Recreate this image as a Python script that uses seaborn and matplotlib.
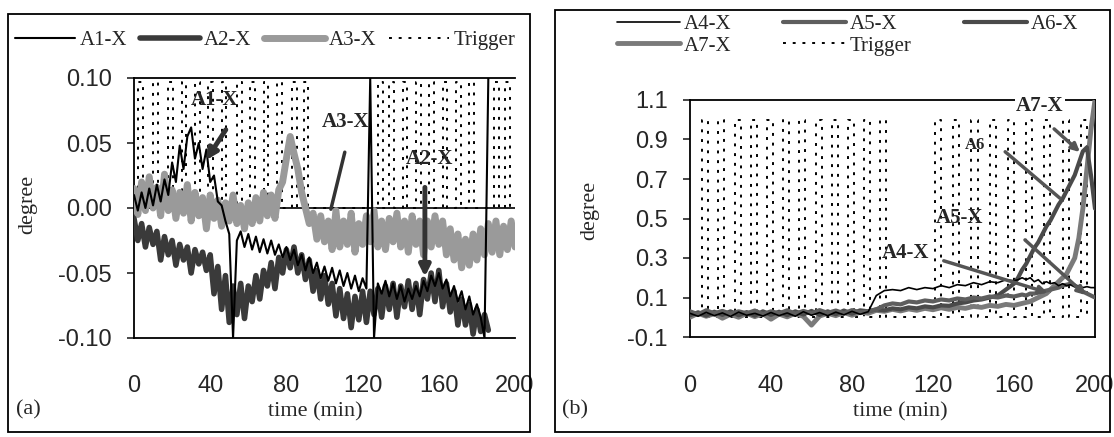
import numpy as np
import matplotlib
matplotlib.use("Agg")
import matplotlib.pyplot as plt
from matplotlib.patches import Rectangle
import seaborn as sns

# ----------------------------------------------------------
# data
# ----------------------------------------------------------

# panel (a): A1/A2 stop at ~186 min, A3 runs to 200 min
TIME_A12 = np.arange(0, 188, 2)
TIME_A3 = np.arange(0, 202, 2)

A1_X = [0.010, -0.002, 0.012, 0.000, 0.015, 0.002, 0.018, 0.005, 0.022, 0.010,
        0.035, 0.020, 0.048, 0.030, 0.055, 0.062, 0.038, 0.050, 0.030, 0.045,
        0.020, 0.025, 0.005, 0.002, -0.010, -0.020, -0.100, -0.025, -0.018, -0.030,
        -0.020, -0.032, -0.022, -0.034, -0.024, -0.035, -0.025, -0.036, -0.028, -0.038,
        -0.030, -0.040, -0.032, -0.044, -0.036, -0.048, -0.038, -0.050, -0.042, -0.054,
        -0.045, -0.056, -0.046, -0.058, -0.048, -0.060, -0.050, -0.062, -0.052, -0.064,
        -0.054, -0.062, 0.100, -0.100, -0.058, -0.066, -0.056, -0.068, -0.058, -0.070,
        -0.060, -0.072, -0.062, -0.070, -0.060, -0.068, -0.056, -0.064, -0.052, -0.060,
        -0.050, -0.062, -0.055, -0.068, -0.060, -0.072, -0.064, -0.078, -0.068, -0.082,
        -0.074, -0.084, -0.100, 0.100]

A2_X = [-0.008, -0.025, -0.012, -0.030, -0.015, -0.028, -0.018, -0.040, -0.022, -0.036,
        -0.025, -0.044, -0.028, -0.040, -0.030, -0.050, -0.032, -0.043, -0.034, -0.048,
        -0.036, -0.066, -0.045, -0.078, -0.052, -0.088, -0.060, -0.082, -0.058, -0.085,
        -0.060, -0.072, -0.052, -0.070, -0.048, -0.060, -0.042, -0.062, -0.038, -0.050,
        -0.032, -0.046, -0.030, -0.050, -0.036, -0.055, -0.040, -0.064, -0.048, -0.070,
        -0.052, -0.074, -0.058, -0.083, -0.062, -0.085, -0.066, -0.092, -0.068, -0.086,
        -0.064, -0.088, -0.064, -0.082, -0.062, -0.084, -0.060, -0.078, -0.058, -0.084,
        -0.060, -0.076, -0.056, -0.078, -0.058, -0.082, -0.055, -0.070, -0.050, -0.072,
        -0.048, -0.076, -0.058, -0.080, -0.064, -0.090, -0.070, -0.090, -0.074, -0.097,
        -0.078, -0.095, -0.082, -0.094]

A3_X = [0.015, -0.005, 0.020, -0.002, 0.024, 0.000, 0.016, -0.006, 0.026, -0.002,
        0.014, -0.008, 0.012, -0.004, 0.018, -0.010, 0.012, -0.006, 0.008, -0.016,
        0.010, -0.008, 0.006, -0.014, 0.004, -0.010, 0.010, -0.012, 0.002, -0.016,
        0.004, -0.012, 0.008, -0.010, 0.012, -0.006, 0.010, -0.008, 0.014, 0.020,
        0.038, 0.055, 0.042, 0.030, 0.012, 0.000, -0.012, -0.004, -0.024, -0.006,
        -0.026, -0.010, -0.032, -0.002, -0.030, -0.010, -0.028, -0.004, -0.034, -0.012,
        -0.028, -0.006, -0.026, -0.002, -0.030, -0.010, -0.032, -0.008, -0.026, -0.004,
        -0.030, -0.010, -0.034, -0.006, -0.028, -0.010, -0.036, -0.010, -0.030, -0.006,
        -0.028, -0.010, -0.036, -0.016, -0.040, -0.020, -0.046, -0.024, -0.044, -0.020,
        -0.040, -0.016, -0.036, -0.012, -0.034, -0.010, -0.036, -0.014, -0.032, -0.010,
        -0.030]

# trigger pulses (start time, min)
TRIG_A_STARTS = [2, 10, 18, 25, 32, 39, 46, 54, 61, 68, 75, 83, 89,
                 128, 134, 141, 148, 155, 162, 169, 176, 189, 195]
TRIG_A_WIDTH = 2.5
TRIG_A_HIGH = 0.097

# panel (b)
TIME_B = np.concatenate([np.arange(0, 161, 4), np.arange(162, 201, 2)])

A4_X = [0.020, 0.005, 0.025, 0.008, 0.022, 0.004, 0.026, 0.010, 0.020, 0.006, 0.024,
        0.008, 0.022, 0.005, 0.028, 0.010, 0.024, 0.008, 0.026, 0.012, 0.030, 0.015,
        0.028, 0.110, 0.135, 0.140, 0.135, 0.150, 0.140, 0.150, 0.145, 0.160,
        0.150, 0.165, 0.160, 0.175, 0.165, 0.180, 0.175, 0.190, 0.185,
        0.190, 0.200, 0.190, 0.200, 0.180, 0.190, 0.170, 0.180, 0.170, 0.175,
        0.160, 0.170, 0.160, 0.165, 0.155, 0.160, 0.150, 0.155, 0.150, 0.150]

A5_X = [0.030, 0.015, 0.035, 0.020, 0.032, 0.018, 0.030, 0.020, 0.034, 0.016, 0.030,
        0.020, 0.035, 0.018, 0.032, 0.020, 0.036, 0.022, 0.034, 0.020, 0.036, 0.025,
        0.030, 0.040, 0.060, 0.070, 0.065, 0.080, 0.075, 0.085, 0.080, 0.090,
        0.085, 0.095, 0.090, 0.100, 0.095, 0.105, 0.100, 0.110, 0.105,
        0.110, 0.115, 0.110, 0.120, 0.120, 0.125, 0.130, 0.135, 0.140, 0.145,
        0.150, 0.160, 0.165, 0.170, 0.160, 0.150, 0.130, 0.120, 0.110, 0.100]

A6_X = [0.010, 0.025, 0.008, 0.028, 0.012, 0.030, 0.010, 0.026, 0.008, 0.030, 0.012,
        0.028, 0.010, 0.030, 0.014, 0.032, 0.012, 0.030, 0.015, 0.034, 0.018, 0.035,
        0.030, 0.040, 0.035, 0.045, 0.040, 0.050, 0.045, 0.055, 0.050, 0.060,
        0.058, 0.070, 0.075, 0.085, 0.090, 0.100, 0.110, 0.140, 0.170,
        0.200, 0.240, 0.270, 0.310, 0.350, 0.380, 0.420, 0.460, 0.490, 0.530,
        0.570, 0.600, 0.640, 0.680, 0.720, 0.780, 0.840, 0.860, 0.720, 0.550]

A7_X = [0.000, 0.020, 0.005, 0.018, -0.005, 0.015, 0.000, 0.020, 0.003, 0.018, -0.010,
        0.016, 0.002, 0.020, 0.004, -0.040, 0.006, 0.020, 0.008, 0.024, 0.010, 0.026,
        0.020, 0.035, 0.030, 0.040, 0.032, 0.042, 0.035, 0.045, 0.038, 0.048,
        0.040, 0.050, 0.045, 0.055, 0.050, 0.060, 0.055, 0.065, 0.060,
        0.065, 0.070, 0.075, 0.080, 0.090, 0.100, 0.110, 0.120, 0.140, 0.160,
        0.180, 0.200, 0.220, 0.260, 0.300, 0.400, 0.550, 0.750, 0.950, 1.100]

TRIG_B_STARTS = [6, 14, 22, 30, 38, 46, 54, 62, 70, 78, 86, 94,
                 121, 130, 139, 148, 157, 166, 175, 184, 193]
TRIG_B_WIDTH = 3
TRIG_B_HIGH = 1.0

X_TICKS = [0, 40, 80, 120, 160, 200]
YTICKS_A = [-0.10, -0.05, 0.00, 0.05, 0.10]
YTICKS_B = [-0.1, 0.1, 0.3, 0.5, 0.7, 0.9, 1.1]


def pulse_train(starts, width, high):
    # square wave built from the pulse start times
    xs, ys = [], []
    for s in starts:
        xs += [s, s, s + width, s + width]
        ys += [0, high, high, 0]
    return xs, ys


# ----------------------------------------------------------
# figure layout (pixel boxes of the scanned page)
# ----------------------------------------------------------

W, H = 1114, 437


def px_rect(x0, y0, x1, y1):
    return [x0 / W, 1 - y1 / H, (x1 - x0) / W, (y1 - y0) / H]


sns.set_style("white")
plt.rcParams["font.family"] = ["Liberation Serif", "DejaVu Serif"]
plt.rcParams["axes.unicode_minus"] = False

fig = plt.figure(figsize=(W / 100, H / 100), dpi=100)
ax_a = fig.add_axes(px_rect(134, 78, 515, 338))
ax_b = fig.add_axes(px_rect(690, 100, 1095, 337))

# panel frames
for x0, y0, x1, y1 in [(8, 14, 530, 432), (555, 10, 1110, 432)]:
    fig.add_artist(Rectangle((x0 / W, 1 - y1 / H), (x1 - x0) / W, (y1 - y0) / H,
                             transform=fig.transFigure, fill=False,
                             edgecolor="black", lw=1.3))

DOT = (0, (1.5, 3.5))

# ----------------------------------------------------------
# panel (a)
# ----------------------------------------------------------

tx, ty = pulse_train(TRIG_A_STARTS, TRIG_A_WIDTH, TRIG_A_HIGH)
ax_a.axhline(0, color="black", lw=1.2, zorder=1)
sns.lineplot(x=tx, y=ty, ax=ax_a, estimator=None, sort=False, color="black",
             lw=1.4, linestyle=DOT, label="Trigger", zorder=2)
sns.lineplot(x=TIME_A3, y=A3_X, ax=ax_a, color="#9a9a9a", lw=5, label="A3-X", zorder=3)
sns.lineplot(x=TIME_A12, y=A2_X, ax=ax_a, color="#3a3a3a", lw=4, label="A2-X", zorder=4)
sns.lineplot(x=TIME_A12, y=A1_X, ax=ax_a, color="black", lw=1.5, label="A1-X", zorder=5)

ax_a.set_xlim(0, 200)
ax_a.set_ylim(-0.10, 0.10)
ax_a.set_xticks(X_TICKS)
ax_a.set_yticks(YTICKS_A)
ax_a.yaxis.set_major_formatter(matplotlib.ticker.FormatStrFormatter("%.2f"))
ax_a.spines["right"].set_visible(False)

bold = dict(fontsize=15, fontweight="bold", ha="center", va="center", zorder=8)
arrow_dark = dict(arrowstyle="-|>", color="#333333", lw=3.5, mutation_scale=16)
ax_a.annotate("", xy=(37.0, 0.035), xytext=(49.0, 0.062), arrowprops=arrow_dark, zorder=8)
ax_a.text(42.5, 0.083, "A1-X", **bold)
ax_a.annotate("", xy=(103.0, -0.003), xytext=(111.0, 0.045),
              arrowprops=dict(arrowstyle="-", color="#333333", lw=2.5), zorder=8)
ax_a.text(111.0, 0.066, "A3-X", **bold)
ax_a.annotate("", xy=(152.7, -0.055), xytext=(152.7, 0.018), arrowprops=arrow_dark, zorder=8)
ax_a.text(155.0, 0.038, "A2-X", **bold)

# ----------------------------------------------------------
# panel (b)
# ----------------------------------------------------------

tx, ty = pulse_train(TRIG_B_STARTS, TRIG_B_WIDTH, TRIG_B_HIGH)
sns.lineplot(x=tx, y=ty, ax=ax_b, estimator=None, sort=False, color="black",
             lw=1.4, linestyle=DOT, label="Trigger", zorder=2)
sns.lineplot(x=TIME_B, y=A7_X, ax=ax_b, color="#7a7a7a", lw=3.5, label="A7-X", zorder=3)
sns.lineplot(x=TIME_B, y=A6_X, ax=ax_b, color="#4a4a4a", lw=3, label="A6-X", zorder=4)
sns.lineplot(x=TIME_B, y=A5_X, ax=ax_b, color="#5e5e5e", lw=3, label="A5-X", zorder=5)
sns.lineplot(x=TIME_B, y=A4_X, ax=ax_b, color="black", lw=1.2, label="A4-X", zorder=6)

ax_b.set_xlim(0, 200)
ax_b.set_ylim(-0.1, 1.1)
ax_b.set_xticks(X_TICKS)
ax_b.set_yticks(YTICKS_B)
ax_b.yaxis.set_major_formatter(matplotlib.ticker.FormatStrFormatter("%.1f"))

arrow_gray = dict(arrowstyle="-|>", color="#555555", lw=2.5, mutation_scale=12)
ax_b.text(172.8, 1.07, "A7-X", bbox=dict(facecolor="white", edgecolor="none", pad=1),
          clip_on=False, **bold)
ax_b.annotate("", xy=(193.6, 0.827), xytext=(178.8, 0.963), arrowprops=arrow_gray, zorder=8)
ax_b.text(140.7, 0.872, "A6", fontsize=12, fontweight="bold", ha="center", va="center")
ax_b.annotate("", xy=(183.7, 0.594), xytext=(154.6, 0.847),
              arrowprops=dict(arrowstyle="-", color="#555555", lw=2.5), zorder=8)
ax_b.text(133.3, 0.503, "A5-X", **bold)
ax_b.annotate("", xy=(196.5, 0.103), xytext=(164.4, 0.401), arrowprops=arrow_gray, zorder=8)
ax_b.text(106.2, 0.325, "A4-X", **bold)
ax_b.annotate("", xy=(178.0, 0.120), xytext=(124.0, 0.290), arrowprops=arrow_gray, zorder=8)

# ----------------------------------------------------------
# shared axis styling
# ----------------------------------------------------------

for ax in (ax_a, ax_b):
    for sp in ax.spines.values():
        sp.set_color("black")
        sp.set_linewidth(1.3)
    ax.tick_params(axis="x", length=0, pad=27, labelsize=17, labelfontfamily="Liberation Sans")
    ax.tick_params(axis="y", left=True, length=5, width=1.2, pad=11, labelsize=17,
                   labelfontfamily="Liberation Sans", direction="out")
    ax.set_ylabel("degree", fontsize=16)
    ax.set_xlabel("time (min)", fontsize=16)
    if ax.get_legend() is not None:
        ax.get_legend().remove()

ax_a.yaxis.set_label_coords(-0.253, 0.512)
ax_a.xaxis.set_label_coords(0.475, -0.247)
ax_b.yaxis.set_label_coords(-0.225, 0.536)
ax_b.xaxis.set_label_coords(0.519, -0.274)

fig.text(28 / W, 1 - 410 / H, "(a)", fontsize=16, ha="center", va="center")
fig.text(575 / W, 1 - 410 / H, "(b)", fontsize=16, ha="center", va="center")

# legends
h_a, l_a = ax_a.get_legend_handles_labels()
lookup_a = dict(zip(l_a, h_a))
order_a = ["A1-X", "A2-X", "A3-X", "Trigger"]
fig.legend([lookup_a[k] for k in order_a], order_a, loc="center left",
           bbox_to_anchor=(15 / W, 1 - 40 / H), ncol=4, frameon=False, fontsize=15,
           handlelength=2.9, handletextpad=0.2, columnspacing=0.6,
           borderpad=0, borderaxespad=0)

h_b, l_b = ax_b.get_legend_handles_labels()
lookup_b = dict(zip(l_b, h_b))
order_b = ["A4-X", "A7-X", "A5-X", "Trigger", "A6-X"]
fig.legend([lookup_b[k] for k in order_b], order_b, loc="center left",
           bbox_to_anchor=(617 / W, 1 - 35 / H), ncol=3, frameon=False, fontsize=15,
           handlelength=3.0, handletextpad=0.2, columnspacing=2.5, labelspacing=0.1,
           borderpad=0, borderaxespad=0)

fig.savefig("out.png", dpi=100)
